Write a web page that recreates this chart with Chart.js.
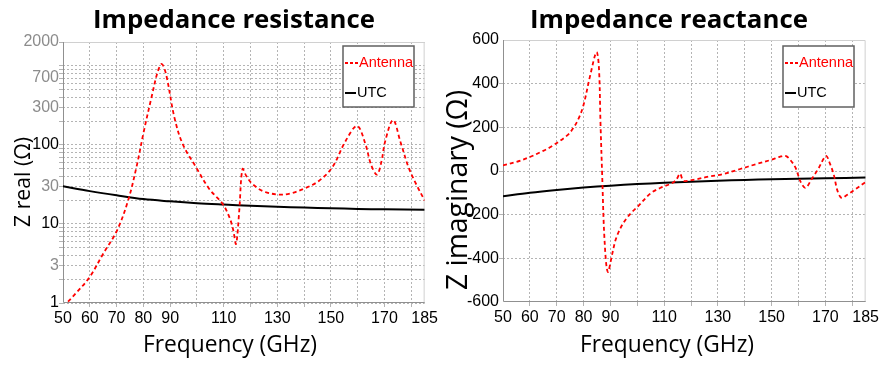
<!DOCTYPE html>
<html>
<head>
<meta charset="utf-8">
<script src="https://cdn.jsdelivr.net/npm/chart.js@4/dist/chart.umd.min.js"></script>
<style>
body{margin:0;background:#fff;width:881px;height:365px;overflow:hidden;position:relative}
#c1{position:absolute;left:0;top:0}
#c2{position:absolute;left:440px;top:0}
</style>
</head>
<body>
<canvas id="c1" width="440" height="365"></canvas>
<canvas id="c2" width="441" height="365"></canvas>
<script>
// resistance (log axis)
const resFreq = [50,51.4,55,60,65,70.2,74.3,77.4,80.2,83,85.4,86.9,88.5,91.6,94.7,99.7,104.6,109.6,112.1,113.5,114.6,115.8,117,118.5,120.7,125,130.7,135,140.6,145.5,150.5,155.5,159.8,162.9,165,167.2,168.8,170.3,173.2,176,179,182,185];
const resAntenna = [0.9,1,1.35,2.14,4.2,8.3,19.8,51.9,150,394,853,1054,775,221,102,51.9,27.7,17.9,12.2,8.5,5.6,14.8,49.5,40,32,25.7,23.5,24.3,28.5,35,51.9,112,173,102,56,42,60,112,206,108,51.9,31,19.8];
const utcFreq = [50,60,70,80,90,100,110,120,130,140,150,160,170,185];
const resUtc = [29.9,26,23,20.6,19.3,18.3,17.6,17,16.5,16.1,15.8,15.5,15.3,15.1];

// reactance (linear axis)
const reaFreq = [50,55,60,63.7,67.7,73.9,76.4,78.5,80.1,82.6,84.8,85.7,86.3,86.9,87.8,89,90.7,91.8,93.1,94.6,96.3,98,100,104.9,108.5,113.2,114.6,115.9,116.7,117.5,122,126,131.7,138,144.1,150,153,155.2,157,158.9,160.8,162.6,165,167.6,169.3,170.4,171.5,173.1,174.5,176,178,181,184.9];
const reaAntenna = [26,42,64,85,110,163,201,250,308,445,544,475,217,-12,-317,-462,-378,-320,-278,-242,-212,-188,-165,-103,-78,-54,-38,-12,-35,-46,-38,-27,-15,8,31,52,65,69,50,15,-50,-77,-35,15,55,69,40,-15,-90,-123,-110,-85,-51];
const reaUtc = [-116,-100,-87,-76,-67,-60,-54,-49,-45,-41,-38,-35,-33,-30];

// ticks
const xGridTicks = [50,60,70,80,90,100,110,120,130,140,150,160,170,180,185];
const xTickLabels = [50,60,70,80,90,110,130,150,170,185];
const logLabels = [1,3,10,30,100,300,700,2000];
const reaTicks = [-600,-400,-200,0,200,400,600];

const logGrid = [];
for (let d = 1; d <= 100; d *= 10) for (let m = 1; m <= 9; m++) logGrid.push(m * d);
logGrid.push(1000, 2000);

const pts = (xs, ys) => xs.map((x, i) => ({x: x, y: ys[i]}));

const TICKFONT = {family: "'Liberation Sans', Arial, sans-serif", size: 16};
const GRIDCOL = '#b4b4b4';
const TEXTFAM = "'Open Sans', sans-serif";

// font size that makes text span the given width
function fitFont(ctx, text, weight, width) {
  ctx.font = weight + ' 100px ' + TEXTFAM;
  const s = 100 * width / ctx.measureText(text).width;
  ctx.font = weight + ' ' + s.toFixed(2) + 'px ' + TEXTFAM;
}

const decor = {
  id: 'decor',
  beforeDatasetsDraw(chart, args, o) {
    const a = chart.chartArea, ctx = chart.ctx;
    ctx.save();
    ctx.lineWidth = 1;
    ctx.strokeStyle = '#d0d0d0';
    ctx.beginPath();
    ctx.moveTo(a.left, a.top + 0.5); ctx.lineTo(a.right - 0.5, a.top + 0.5); ctx.lineTo(a.right - 0.5, a.bottom);
    ctx.stroke();
    ctx.strokeStyle = '#909090';
    ctx.beginPath();
    ctx.moveTo(a.left + 0.5, a.top); ctx.lineTo(a.left + 0.5, a.bottom - 0.5); ctx.lineTo(a.right, a.bottom - 0.5);
    ctx.stroke();
    ctx.restore();
  },
  afterDraw(chart, args, o) {
    const ctx = chart.ctx;
    ctx.save();
    ctx.fillStyle = '#000';
    ctx.textAlign = 'center';
    ctx.textBaseline = 'alphabetic';
    // title
    fitFont(ctx, o.title, 'bold', o.titleW);
    ctx.fillText(o.title, o.titleX, 28);
    // x title
    fitFont(ctx, 'Frequency (GHz)', 'normal', 174);
    ctx.fillText('Frequency (GHz)', o.xTitleX, 352);
    // y title
    ctx.translate(o.yTitleX, o.yTitleY);
    ctx.rotate(-Math.PI / 2);
    ctx.textBaseline = 'middle';
    fitFont(ctx, o.yTitle, 'normal', o.yTitleW);
    ctx.fillText(o.yTitle, 0, 0);
    ctx.restore();

    // legend
    ctx.save();
    ctx.fillStyle = '#fff';
    ctx.fillRect(343, 46, 71, 61);
    ctx.strokeStyle = '#606060';
    ctx.lineWidth = 1.5;
    ctx.strokeRect(343, 46, 71, 61);
    ctx.font = "14.5px 'Liberation Sans', Arial, sans-serif";
    ctx.textAlign = 'left';
    ctx.textBaseline = 'middle';
    ctx.lineWidth = 1.8;
    ctx.strokeStyle = 'red';
    ctx.setLineDash([3, 2]);
    ctx.beginPath(); ctx.moveTo(345, 63); ctx.lineTo(358, 63); ctx.stroke();
    ctx.fillStyle = 'red';
    ctx.fillText('Antenna', 359, 63);
    ctx.setLineDash([]);
    ctx.strokeStyle = '#000';
    ctx.lineWidth = 2;
    ctx.beginPath(); ctx.moveTo(345, 93); ctx.lineTo(356, 93); ctx.stroke();
    ctx.fillStyle = '#000';
    ctx.fillText('UTC', 357, 93);
    ctx.restore();
  }
};

const xScale = (h) => ({
  type: 'linear', min: 50, max: 185,
  afterBuildTicks: s => { s.ticks = xGridTicks.map(v => ({value: v})); },
  afterFit: s => { s.height = h; },
  grid: {color: c => (c.tick && (c.tick.value === 50 || c.tick.value === 185)) ? 'rgba(0,0,0,0)' : GRIDCOL, tickLength: 4, lineWidth: 1},
  border: {display: false, dash: [2, 2]},
  ticks: {autoSkip: false, maxRotation: 0, padding: 2, color: '#000', font: TICKFONT,
    callback: v => xTickLabels.includes(v) ? String(v) : ''}
});

function datasets(fx, fy, ux, uy) {
  return [
    {label: 'Antenna', data: pts(fx, fy), borderColor: 'red', borderWidth: 1.8, borderDash: [4, 3],
     pointRadius: 0, tension: 0.35, fill: false},
    {label: 'UTC', data: pts(ux, uy), borderColor: '#000', borderWidth: 2,
     pointRadius: 0, tension: 0.35, fill: false}
  ];
}

new Chart(document.getElementById('c1').getContext('2d'), {
  type: 'line',
  data: {datasets: datasets(resFreq, resAntenna, utcFreq, resUtc)},
  options: {
    responsive: false, animation: false, devicePixelRatio: 1,
    layout: {padding: {top: 42, right: 13, left: 0, bottom: 0}},
    plugins: {legend: {display: false}, tooltip: {enabled: false},
      decor: {title: 'Impedance resistance', titleX: 234, titleW: 282, xTitleX: 230,
              yTitle: 'Z real (Ω)', yTitleX: 24, yTitleY: 182, yTitleW: 90}},
    scales: {
      x: xScale(62),
      y: {
        type: 'logarithmic', min: 1, max: 2000,
        afterBuildTicks: s => { s.ticks = logGrid.map(v => ({value: v})); },
        afterFit: s => { s.width = 63; },
        grid: {color: GRIDCOL, tickLength: 4, lineWidth: 1},
        border: {display: false, dash: [2, 2]},
        ticks: {autoSkip: false, padding: 0, font: TICKFONT,
          color: c => [1, 10, 100, 1000].includes(c.tick.value) ? '#000' : '#8c8c8c',
          callback: v => logLabels.includes(v) ? String(v) : ''}
      }
    }
  },
  plugins: [decor]
});

new Chart(document.getElementById('c2').getContext('2d'), {
  type: 'line',
  data: {datasets: datasets(reaFreq, reaAntenna, utcFreq, reaUtc)},
  options: {
    responsive: false, animation: false, devicePixelRatio: 1,
    layout: {padding: {top: 40, right: 14, left: 0, bottom: 0}},
    plugins: {legend: {display: false}, tooltip: {enabled: false},
      decor: {title: 'Impedance reactance', titleX: 229, titleW: 278, xTitleX: 227,
              yTitle: 'Z imaginary (Ω)', yTitleX: 19, yTitleY: 190, yTitleW: 200}},
    scales: {
      x: xScale(63),
      y: {
        type: 'linear', min: -600, max: 600,
        afterBuildTicks: s => { s.ticks = reaTicks.map(v => ({value: v})); },
        afterFit: s => { s.width = 63; },
        grid: {color: c => (c.tick && Math.abs(c.tick.value) === 600) ? 'rgba(0,0,0,0)' : GRIDCOL, tickLength: 4, lineWidth: 1},
        border: {display: false, dash: [2, 2]},
        ticks: {autoSkip: false, padding: 0, color: '#000', font: TICKFONT}
      }
    }
  },
  plugins: [decor]
});
</script>
</body>
</html>
